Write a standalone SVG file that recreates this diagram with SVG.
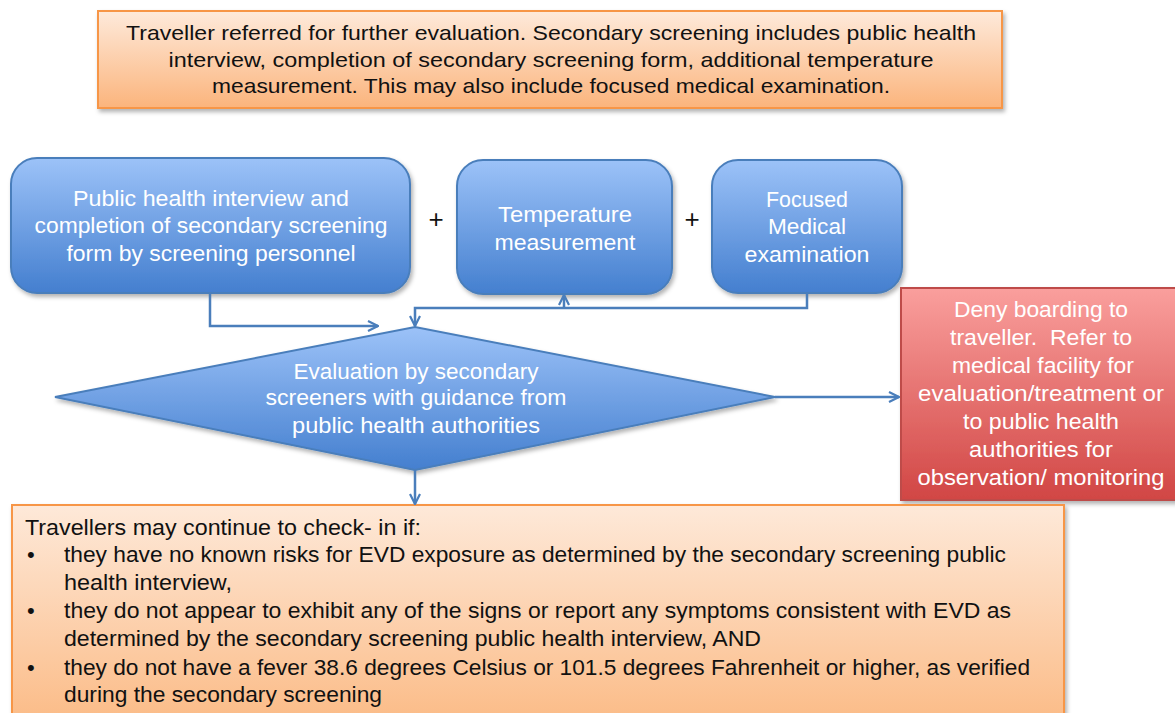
<svg xmlns="http://www.w3.org/2000/svg" width="1175" height="713" viewBox="0 0 1175 713">
<defs>
<linearGradient id="gOrange" x1="0" y1="0" x2="0" y2="1">
<stop offset="0" stop-color="#FEEADB"/>
<stop offset="1" stop-color="#FBB47C"/>
</linearGradient>
<linearGradient id="gOrange2" x1="0" y1="0" x2="0" y2="1">
<stop offset="0" stop-color="#FEE9D9"/>
<stop offset="1" stop-color="#FBBB86"/>
</linearGradient>
<linearGradient id="gBlue" x1="0" y1="0" x2="0" y2="1">
<stop offset="0" stop-color="#9CC2F8"/>
<stop offset="1" stop-color="#447FCF"/>
</linearGradient>
<linearGradient id="gRed" x1="0" y1="0" x2="0" y2="1">
<stop offset="0" stop-color="#FA9F9D"/>
<stop offset="1" stop-color="#D14644"/>
</linearGradient>
<filter id="sh" x="-5%" y="-5%" width="115%" height="120%">
<feDropShadow dx="2" dy="3" stdDeviation="2" flood-color="#000" flood-opacity="0.3"/>
</filter>
<marker id="arr" viewBox="0 0 12 12" refX="11" refY="6" markerWidth="12" markerHeight="12" markerUnits="userSpaceOnUse" orient="auto">
<path d="M1,1 L11,6 L1,11" fill="none" stroke="#4A7EBB" stroke-width="2.2"/>
</marker>
</defs>
<style>
.orange{fill:url(#gOrange);stroke:#F79646;stroke-width:2}
.orange2{fill:url(#gOrange2);stroke:#F79646;stroke-width:2}
.blue{fill:url(#gBlue);stroke:#4A7EBB;stroke-width:2}
.red{fill:url(#gRed);stroke:#BE4B48;stroke-width:2}
.dark{font-family:"Liberation Sans",Arial,sans-serif;fill:#111;font-size:21px}
.white{font-family:"Liberation Sans",Arial,sans-serif;fill:#fff;font-size:22px;text-anchor:middle}
.c{text-anchor:middle}
.conn{fill:none;stroke:#4A7EBB;stroke-width:2.5}
.plus{font-family:"Liberation Sans",Arial,sans-serif;fill:#111;font-size:26px;text-anchor:middle}
</style>

<g id="top-box">
<rect x="98" y="11" width="904" height="97" class="orange" filter="url(#sh)"/>
<text class="dark c" x="551" y="40" textLength="850" lengthAdjust="spacingAndGlyphs">Traveller referred for further evaluation. Secondary screening includes public health</text>
<text class="dark c" x="551" y="67" textLength="765" lengthAdjust="spacingAndGlyphs">interview, completion of secondary screening form, additional temperature</text>
<text class="dark c" x="551" y="93" textLength="678" lengthAdjust="spacingAndGlyphs">measurement. This may also include focused medical examination.</text>
</g>

<g id="interview">
<rect x="11" y="158" width="399" height="135" rx="26" class="blue" filter="url(#sh)"/>
<text class="white" x="211" y="206" textLength="276" lengthAdjust="spacingAndGlyphs">Public health interview and</text>
<text class="white" x="211" y="233" textLength="353" lengthAdjust="spacingAndGlyphs">completion of secondary screening</text>
<text class="white" x="211" y="261" textLength="289" lengthAdjust="spacingAndGlyphs">form by screening personnel</text>
</g>

<g id="plus1"><text class="plus" x="436" y="228">+</text></g>

<g id="temperature">
<rect x="457" y="160" width="215" height="134" rx="26" class="blue" filter="url(#sh)"/>
<text class="white" x="565" y="222" textLength="134" lengthAdjust="spacingAndGlyphs">Temperature</text>
<text class="white" x="565" y="250" textLength="141" lengthAdjust="spacingAndGlyphs">measurement</text>
</g>

<g id="plus2"><text class="plus" x="692" y="228">+</text></g>

<g id="medical">
<rect x="712" y="160" width="190" height="133" rx="26" class="blue" filter="url(#sh)"/>
<text class="white" x="807" y="207" textLength="82" lengthAdjust="spacingAndGlyphs">Focused</text>
<text class="white" x="807" y="234" textLength="78" lengthAdjust="spacingAndGlyphs">Medical</text>
<text class="white" x="807" y="262" textLength="125" lengthAdjust="spacingAndGlyphs">examination</text>
</g>

<g id="evaluation">
<polygon points="55,397 415,327 775,397 415,470" class="blue" filter="url(#sh)"/>
<text class="white" x="416" y="379" textLength="245" lengthAdjust="spacingAndGlyphs">Evaluation by secondary</text>
<text class="white" x="416" y="405" textLength="301" lengthAdjust="spacingAndGlyphs">screeners with guidance from</text>
<text class="white" x="416" y="433" textLength="248" lengthAdjust="spacingAndGlyphs">public health authorities</text>
</g>

<g id="deny">
<rect x="901" y="288" width="290" height="212" class="red" filter="url(#sh)"/>
<text class="white" x="1041" y="317" textLength="174" lengthAdjust="spacingAndGlyphs">Deny boarding to</text>
<text class="white" x="1041" y="345" textLength="182" lengthAdjust="spacingAndGlyphs" xml:space="preserve">traveller.  Refer to</text>
<text class="white" x="1043" y="373" textLength="182" lengthAdjust="spacingAndGlyphs">medical facility for</text>
<text class="white" x="1041" y="401" textLength="246" lengthAdjust="spacingAndGlyphs">evaluation/treatment or</text>
<text class="white" x="1041" y="429" textLength="156" lengthAdjust="spacingAndGlyphs">to public health</text>
<text class="white" x="1041" y="457" textLength="144" lengthAdjust="spacingAndGlyphs">authorities for</text>
<text class="white" x="1041" y="485" textLength="247" lengthAdjust="spacingAndGlyphs">observation/ monitoring</text>
</g>

<g id="continue">
<rect x="12" y="505" width="1052" height="220" class="orange2" filter="url(#sh)"/>
<text class="dark" style="font-size:22px" x="25" y="535" textLength="396" lengthAdjust="spacingAndGlyphs">Travellers may continue to check- in if:</text>
<text class="dark" style="font-size:22px" x="27" y="562">•</text>
<text class="dark" style="font-size:22px" x="64" y="562" textLength="942" lengthAdjust="spacingAndGlyphs">they have no known risks for EVD exposure as determined by the secondary screening public</text>
<text class="dark" style="font-size:22px" x="64" y="590" textLength="168" lengthAdjust="spacingAndGlyphs">health interview,</text>
<text class="dark" style="font-size:22px" x="27" y="618">•</text>
<text class="dark" style="font-size:22px" x="64" y="618" textLength="947" lengthAdjust="spacingAndGlyphs">they do not appear to exhibit any of the signs or report any symptoms consistent with EVD as</text>
<text class="dark" style="font-size:22px" x="64" y="646" textLength="697" lengthAdjust="spacingAndGlyphs">determined by the secondary screening public health interview, AND</text>
<text class="dark" style="font-size:22px" x="27" y="675">•</text>
<text class="dark" style="font-size:22px" x="64" y="675" textLength="966" lengthAdjust="spacingAndGlyphs">they do not have a fever 38.6 degrees Celsius or 101.5 degrees Fahrenheit or higher, as verified</text>
<text class="dark" style="font-size:22px" x="64" y="702" textLength="318" lengthAdjust="spacingAndGlyphs">during the secondary screening</text>
</g>

<g id="connectors">
<path class="conn" d="M210,293 V326 H378" marker-end="url(#arr)"/>
<path class="conn" d="M807,293 V308 H415 V326" marker-end="url(#arr)"/>
<path class="conn" d="M564,308 V295" marker-end="url(#arr)"/>
<path class="conn" d="M775,397 H899" marker-end="url(#arr)"/>
<path class="conn" d="M415,470 V504" marker-end="url(#arr)"/>
</g>
</svg>
